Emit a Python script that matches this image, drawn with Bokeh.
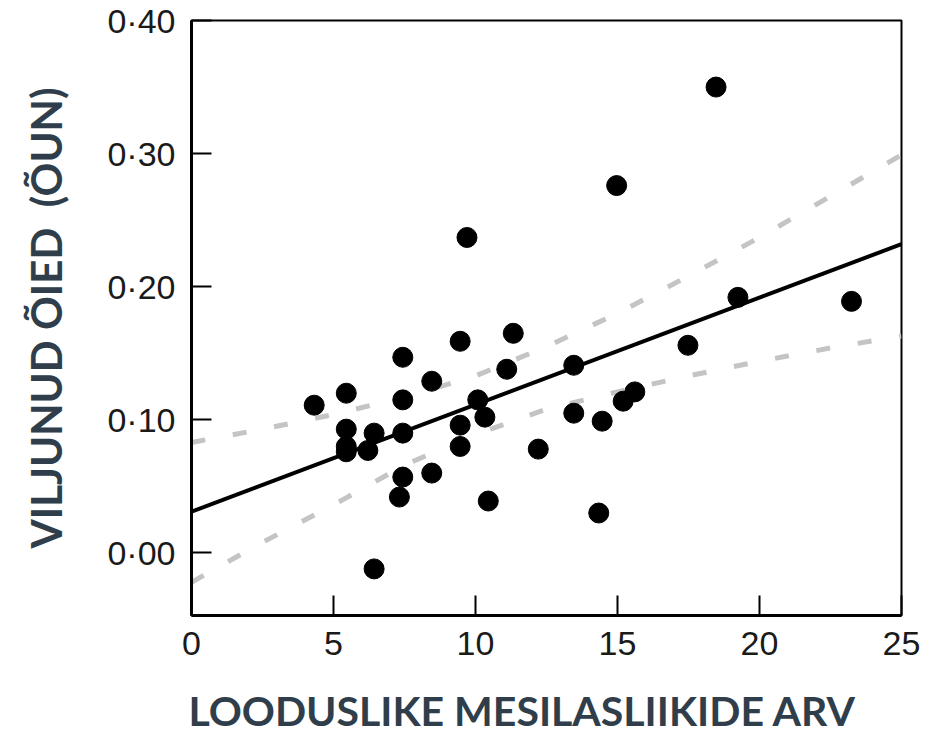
from bokeh.plotting import figure
from bokeh.models import Range1d, FixedTicker
from bokeh.embed import file_html
from bokeh.resources import INLINE

# ---- data ----
bee_species = [4.32, 5.45, 5.45, 5.45, 5.45, 6.21, 6.43, 6.43, 7.44, 7.44, 7.44, 7.44,
               7.32, 8.46, 8.46, 9.46, 9.46, 9.46, 9.70, 10.08, 10.33, 10.45, 11.10,
               11.33, 12.21, 13.46, 13.46, 14.34, 14.46, 14.97, 15.20, 15.61, 17.48,
               18.47, 19.24, 23.24]
fruit_set = [0.111, 0.120, 0.093, 0.080, 0.076, 0.077, 0.090, -0.012, 0.147, 0.115,
             0.090, 0.057, 0.042, 0.129, 0.060, 0.159, 0.096, 0.080, 0.237, 0.115,
             0.102, 0.039, 0.138, 0.165, 0.078, 0.141, 0.105, 0.030, 0.099, 0.276,
             0.114, 0.121, 0.156, 0.350, 0.192, 0.189]

fit_x = [0, 25]
fit_y = [0.031, 0.232]

ci_x = [0, 2.5, 5, 7.5, 10, 12.5, 15, 17.5, 20, 22.5, 25]
ci_upper = [0.083, 0.093, 0.104, 0.117, 0.133, 0.155, 0.180, 0.208, 0.237, 0.268, 0.299]
ci_lower = [-0.022, 0.008, 0.036, 0.066, 0.089, 0.108, 0.121, 0.133, 0.144, 0.154, 0.163]

x_ticks = [0, 5, 10, 15, 20, 25]
y_ticks = [0.0, 0.1, 0.2, 0.3, 0.4]
y_tick_labels = ["0\u00b700", "0\u00b710", "0\u00b720", "0\u00b730", "0\u00b740"]

x_title = "LOODUSLIKE MESILASLIIKIDE ARV"
y_title = "VILJUNUD ÕIED\u00a0 (ÕUN)"

TITLE_COLOR = "#2f3e4a"

# ---- figure ----
p = figure(width=933, height=737, output_backend="svg", toolbar_location=None,
           x_range=Range1d(0, 25), y_range=Range1d(-0.047, 0.40),
           min_border_left=191, min_border_right=32, min_border_top=20,
           min_border_bottom=122)
p.background_fill_color = "white"
p.border_fill_color = "white"
p.grid.visible = False
p.outline_line_color = "black"
p.outline_line_width = 2

p.line(ci_x, ci_upper, line_color="#c4c4c4", line_width=5, line_dash="14 28")
p.line(ci_x, ci_lower, line_color="#c4c4c4", line_width=5, line_dash="14 28")
p.line(fit_x, fit_y, line_color="black", line_width=4)
p.scatter(bee_species, fruit_set, size=20, fill_color="black", line_color="black")

for ax in (p.xaxis[0], p.yaxis[0]):
    ax.axis_line_color = "black"
    ax.axis_line_width = 3
    ax.major_tick_line_color = "black"
    ax.major_tick_line_width = 2
    ax.major_tick_in = 20
    ax.major_tick_out = 0
    ax.minor_tick_line_color = None
    ax.major_label_text_font = "Liberation Sans"
    ax.major_label_text_font_size = "34px"
    ax.major_label_text_color = "#1a1a1a"
    ax.axis_label_text_font = "Lato"
    ax.axis_label_text_font_style = "bold"
    ax.axis_label_text_color = TITLE_COLOR

p.xaxis.ticker = FixedTicker(ticks=x_ticks)
p.yaxis.ticker = FixedTicker(ticks=y_ticks)
p.yaxis.major_label_overrides = dict(zip(y_ticks, y_tick_labels))
p.xaxis.major_label_standoff = 16
p.yaxis.major_label_standoff = 16

p.yaxis.axis_label = y_title
p.yaxis.axis_label_standoff = 33
p.yaxis.axis_label_text_font_size = "42px"

# trailing no-break spaces shift the centred title slightly left, as in the original
p.xaxis.axis_label = x_title + "\u00a0" * 5
p.xaxis.axis_label_standoff = 28
p.xaxis.axis_label_text_font_size = "41px"

open("out.html", "w").write(file_html(p, INLINE))
